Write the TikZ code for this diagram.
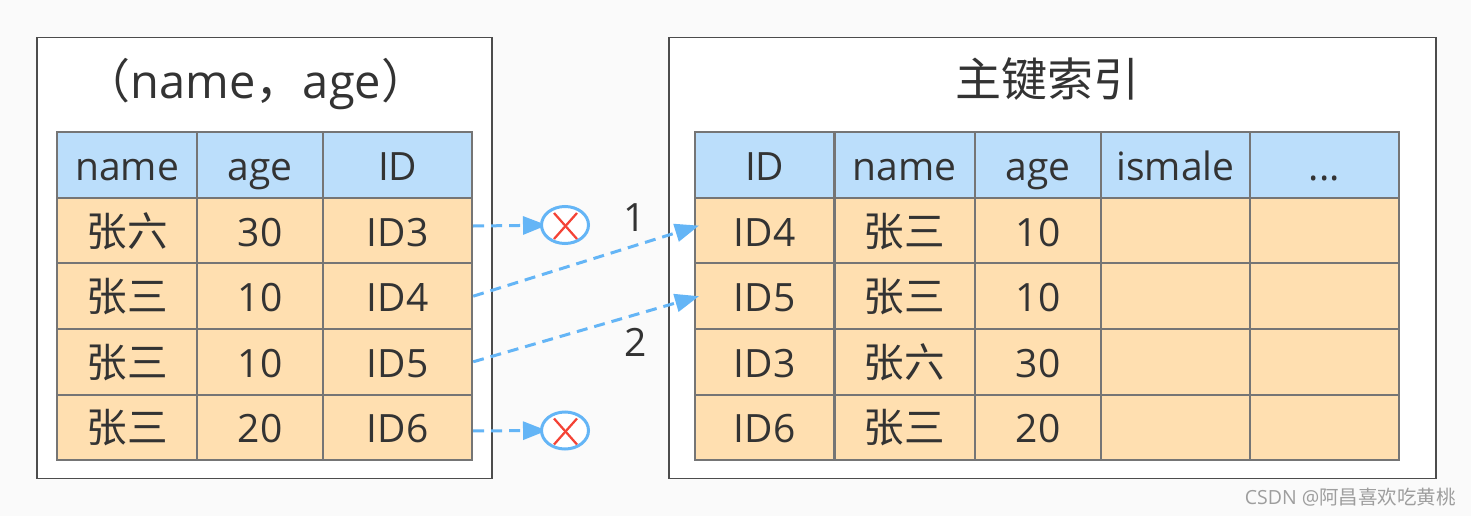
\documentclass[tikz,border=0pt]{standalone}
\usepackage{fontspec}
\setmainfont{Open Sans}
\newfontfamily\cjk{Noto Sans CJK SC}
\newfontfamily\cellcjk[Scale=1.04]{Noto Sans CJK SC}
\usepackage{xcolor}
\usetikzlibrary{arrows.meta}
\usetikzlibrary{shapes.geometric}
\definecolor{headblue}{HTML}{BBDEFB}
\definecolor{bodyorange}{HTML}{FFDFB0}
\definecolor{cellgrey}{HTML}{757575}
\definecolor{inkgrey}{HTML}{333333}
\definecolor{linkblue}{HTML}{64B5F6}
\definecolor{crossred}{HTML}{F44336}
\pgfdeclarelayer{front}
\pgfsetlayers{main,front}
\tikzstyle{panel}=[draw=black!70, line width=1.5pt, fill=white, inner sep=0pt]
\tikzstyle{cell}=[draw=cellgrey, line width=2pt, text=inkgrey, inner sep=0pt, minimum height=65.6pt, text height=33pt, text depth=2pt, font=\fontsize{39}{44}\selectfont]
\tikzstyle{headcell}=[cell, fill=headblue]
\tikzstyle{bodycell}=[cell, fill=bodyorange]
\tikzstyle{title}=[text=inkgrey, inner sep=0pt, font=\fontsize{47}{52}\selectfont]
\tikzstyle{reject}=[draw=linkblue, line width=3pt, fill=white, shape=ellipse, minimum width=47pt, minimum height=37pt, inner sep=0pt]
\tikzstyle{link}=[-{Stealth[length=24pt, width=18pt, inset=0pt]}, line width=3pt, color=linkblue, dash pattern=on 11pt off 7pt]
\tikzstyle{mismark}=[line width=2.25pt, color=crossred]

\begin{document}
\begin{tikzpicture}[x=1pt, y=-1pt]
\useasboundingbox (0,0) rectangle (1471,516);
\fill[black!2] (0,0) rectangle (1471,516);

\node [panel, minimum width=455pt, minimum height=441pt] (leftpanel) at (264.5,258) {};
\node [panel, minimum width=767pt, minimum height=441pt] (rightpanel) at (1052.5,258) {};
\node [title] (lefttitle) at (256,84) {{\cjk （}name{\cjk ，}age{\cjk ）}};
\node [title, font=\fontsize{46}{50}\selectfont\cjk] (righttitle) at (1047,79.5) {主键索引};

% left table
\node [headcell, minimum width=140pt] (lhname) at (127,165) {name};
\node [headcell, minimum width=126.5pt] (lhage) at (260.2,165) {age};
\node [headcell, minimum width=149pt] (lhid) at (397.7,165) {ID};
\node [bodycell, minimum width=140pt] (lnamea) at (127,230.6) {\cellcjk 张六};
\node [bodycell, minimum width=126.5pt] (lagea) at (260.2,230.6) {30};
\node [bodycell, minimum width=149pt] (lida) at (397.7,230.6) {ID3};
\node [bodycell, minimum width=140pt] (lnameb) at (127,296.2) {\cellcjk 张三};
\node [bodycell, minimum width=126.5pt] (lageb) at (260.2,296.2) {10};
\node [bodycell, minimum width=149pt] (lidb) at (397.7,296.2) {ID4};
\node [bodycell, minimum width=140pt] (lnamec) at (127,361.8) {\cellcjk 张三};
\node [bodycell, minimum width=126.5pt] (lagec) at (260.2,361.8) {10};
\node [bodycell, minimum width=149pt] (lidc) at (397.7,361.8) {ID5};
\node [bodycell, minimum width=140pt] (lnamed) at (127,427.4) {\cellcjk 张三};
\node [bodycell, minimum width=126.5pt] (laged) at (260.2,427.4) {20};
\node [bodycell, minimum width=149pt] (lidd) at (397.7,427.4) {ID6};

% right table
\node [headcell, minimum width=139.5pt] (rhid) at (764.7,165) {ID};
\node [headcell, minimum width=140pt] (rhname) at (904.5,165) {name};
\node [headcell, minimum width=127pt] (rhage) at (1038,165) {age};
\node [headcell, minimum width=149pt] (rhmale) at (1175.5,165) {ismale};
\node [headcell, minimum width=149pt] (rhmore) at (1324.5,165) {...};
\node [bodycell, minimum width=139.5pt] (rida) at (764.7,230.6) {ID4};
\node [bodycell, minimum width=140pt] (rnamea) at (904.5,230.6) {\cellcjk 张三};
\node [bodycell, minimum width=127pt] (ragea) at (1038,230.6) {10};
\node [bodycell, minimum width=149pt] (rmalea) at (1175.5,230.6) {};
\node [bodycell, minimum width=149pt] (rmorea) at (1324.5,230.6) {};
\node [bodycell, minimum width=139.5pt] (ridb) at (764.7,296.2) {ID5};
\node [bodycell, minimum width=140pt] (rnameb) at (904.5,296.2) {\cellcjk 张三};
\node [bodycell, minimum width=127pt] (rageb) at (1038,296.2) {10};
\node [bodycell, minimum width=149pt] (rmaleb) at (1175.5,296.2) {};
\node [bodycell, minimum width=149pt] (rmoreb) at (1324.5,296.2) {};
\node [bodycell, minimum width=139.5pt] (ridc) at (764.7,361.8) {ID3};
\node [bodycell, minimum width=140pt] (rnamec) at (904.5,361.8) {\cellcjk 张六};
\node [bodycell, minimum width=127pt] (ragec) at (1038,361.8) {30};
\node [bodycell, minimum width=149pt] (rmalec) at (1175.5,361.8) {};
\node [bodycell, minimum width=149pt] (rmorec) at (1324.5,361.8) {};
\node [bodycell, minimum width=139.5pt] (ridd) at (764.7,427.4) {ID6};
\node [bodycell, minimum width=140pt] (rnamed) at (904.5,427.4) {\cellcjk 张三};
\node [bodycell, minimum width=127pt] (raged) at (1038,427.4) {20};
\node [bodycell, minimum width=149pt] (rmaled) at (1175.5,427.4) {};
\node [bodycell, minimum width=149pt] (rmored) at (1324.5,427.4) {};

\begin{pgfonlayer}{front}
\node [reject] (rejecta) at (565,225) {};
\node [reject] (rejectb) at (565,430.5) {};
\draw [mismark] (554,213) -- (577,239);
\draw [mismark] (577,213) -- (554,239);
\draw [mismark] (554,418.5) -- (577,444.5);
\draw [mismark] (577,418.5) -- (554,444.5);
\end{pgfonlayer}

\draw [link, shorten >=-7pt] ([yshift=4.6pt]lida.east) -- (rejecta);
\draw [link, shorten >=-7pt] ([yshift=-3.5pt]lidd.east) -- (rejectb);
\draw [link] (lidb.east) -- ([xshift=5pt, yshift=5pt]rida.west);
\draw [link] (lidc.east) -- ([xshift=5pt]ridb.west);

\node [text=inkgrey, font=\fontsize{39}{44}\selectfont] (firstlabel) at (635,218) {1};
\node [text=inkgrey, font=\fontsize{39}{44}\selectfont] (secondlabel) at (636,342) {2};
\node [text=black!38, anchor=east, inner sep=0pt, font=\fontsize{19.5}{22}\selectfont] (mark) at (1456,497) {CSDN @{\cjk 阿昌喜欢吃黄桃}};
\end{tikzpicture}
\end{document}
